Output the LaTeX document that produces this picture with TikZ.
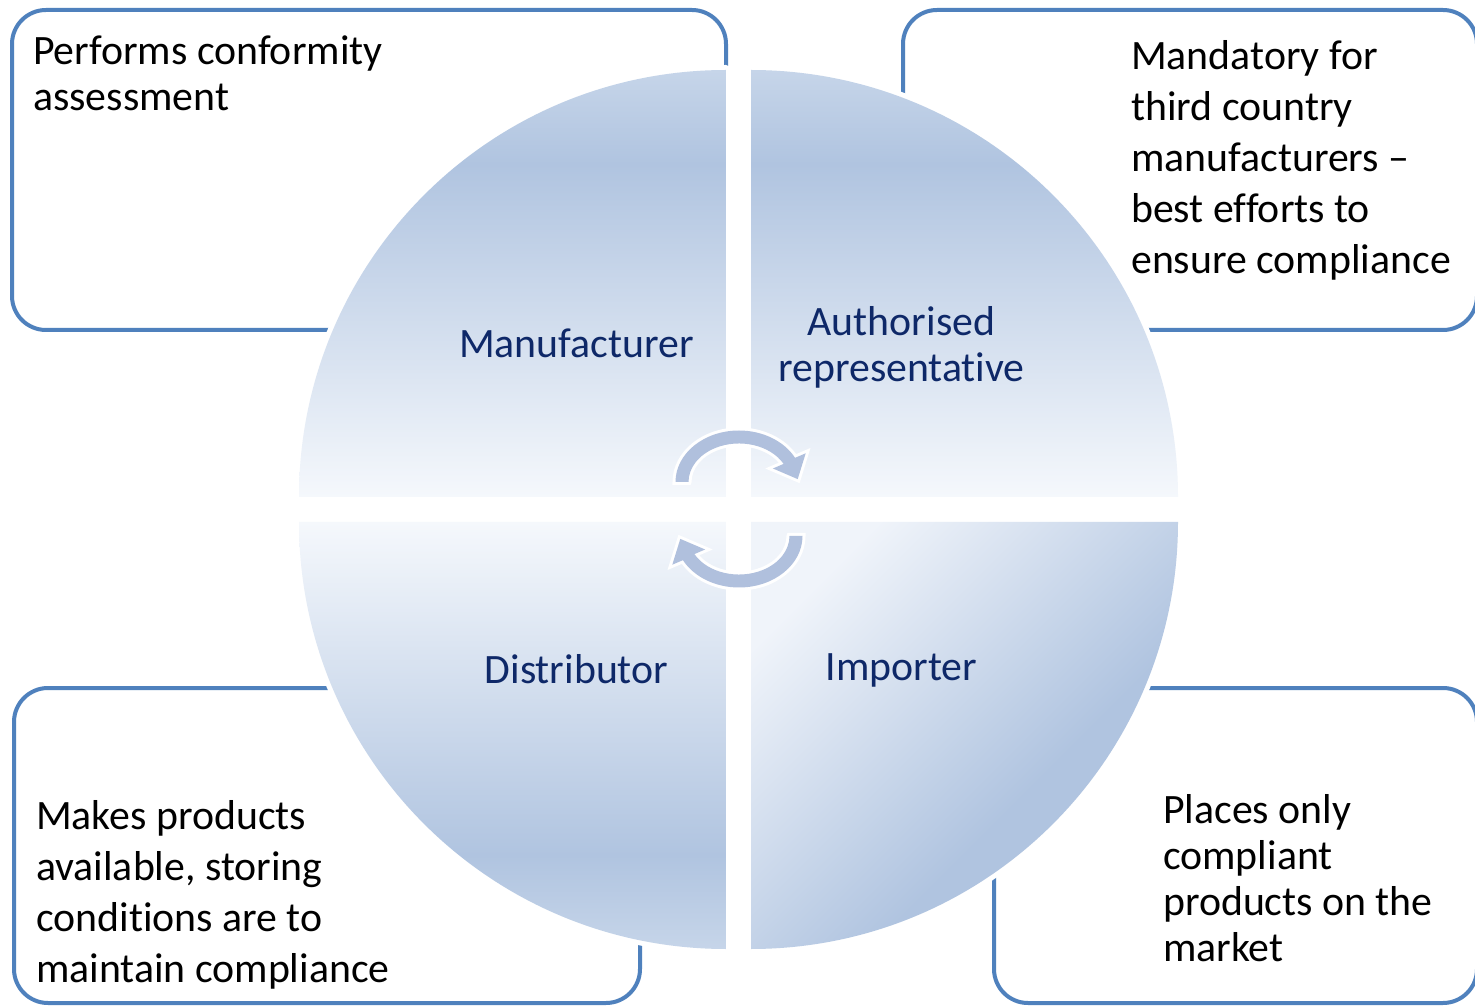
\documentclass[tikz,border=0pt]{standalone}
\usepackage{fontspec}
\setmainfont{Carlito}[Ligatures=NoCommon]
\definecolor{boxblue}{RGB}{79,129,189}
\definecolor{qdark}{RGB}{176,196,224}
\definecolor{qedge}{RGB}{198,213,233}
\definecolor{qlight}{RGB}{245,248,252}
\definecolor{qdiaglight}{RGB}{240,244,250}
\definecolor{arrowblue}{RGB}{176,192,221}
\definecolor{labelnavy}{RGB}{14,40,104}
\pgfdeclareverticalshading{qtop}{100bp}{color(0bp)=(qlight); color(25bp)=(qlight); color(64bp)=(qdark); color(75bp)=(qedge); color(100bp)=(qedge)}
\pgfdeclareverticalshading{qbot}{100bp}{color(0bp)=(qedge); color(25bp)=(qedge); color(36bp)=(qdark); color(75bp)=(qlight); color(100bp)=(qlight)}
\pgfdeclareverticalshading{qdiag}{100bp}{color(0bp)=(qdark); color(40bp)=(qdark); color(75bp)=(qdiaglight); color(100bp)=(qdiaglight)}
\newcommand\ltext[1]{\begin{tabular}[t]{@{}l@{}}#1\end{tabular}}
\newcommand\ctext[1]{\begin{tabular}[t]{@{}c@{}}#1\end{tabular}}
\tikzset{
  roundbox/.style={draw=boxblue, line width=4, rounded corners=34, fill=white},
  quad/.style={preaction={draw=white, line width=10, line join=round}},
  cyclearrow/.style={fill=arrowblue, preaction={draw=white, line width=6, line join=miter}},
  tighttext/.style={anchor=base west, inner sep=0, font=\fontsize{41.8}{46}\selectfont},
  widetext/.style={anchor=base west, inner sep=0, font=\fontsize{41.8}{51}\selectfont},
  rolelabel/.style={anchor=base, inner sep=0, text=labelnavy, font=\fontsize{41.8}{46}\selectfont}
}
\begin{document}
\begin{tikzpicture}[x=1pt,y=1pt]
\useasboundingbox (0,0) rectangle (1475,1005);
\fill[white] (0,0) rectangle (1475,1005);
% boxes
\draw[roundbox] (12,675) rectangle (726,995);
\draw[roundbox] (903,675) rectangle (1477,995);
\draw[roundbox] (14,2) rectangle (640,317);
\draw[roundbox] (994,2) rectangle (1477,317);
% box texts
\node[tighttext] (tconf) at (33,940) {\ltext{Performs conformity\\assessment}};
\node[widetext] (tmand) at (1131,935) {\ltext{Mandatory for\\third country\\manufacturers –\\best efforts to\\ensure compliance}};
\node[widetext] (tmake) at (36,176) {\ltext{Makes products\\available, storing\\conditions are to\\maintain compliance}};
\node[tighttext] (tplace) at (1163,182) {\ltext{Places only\\compliant\\products on the\\market}};
% quadrants
\shade[quad, shading=qtop] (726,508) -- (299,508) arc[start angle=180, end angle=90, radius=427] -- cycle;
\shade[quad, shading=qtop] (751,508) -- (751,935) arc[start angle=90, end angle=0, radius=427] -- cycle;
\shade[quad, shading=qbot] (726,483) -- (726,56) arc[start angle=270, end angle=180, radius=427] -- cycle;
\shade[quad, shading=qdiag, shading angle=45] (751,483) -- (1178,483) arc[start angle=0, end angle=-90, radius=427] -- cycle;
% cycle arrows
\path[cyclearrow] (688.5,523) -- (675.5,523) arc[start angle=180, end angle=28, x radius=63.5, y radius=51.5] -- (805.7,551.7) -- (797.7,525.9) -- (772.9,536.5) -- (783.6,541.1) arc[start angle=28, end angle=180, x radius=50.5, y radius=38.5] -- cycle;
\begin{scope}[rotate around={180:(739,496)}]
\path[cyclearrow] (688.5,523) -- (675.5,523) arc[start angle=180, end angle=28, x radius=63.5, y radius=51.5] -- (805.7,551.7) -- (797.7,525.9) -- (772.9,536.5) -- (783.6,541.1) arc[start angle=28, end angle=180, x radius=50.5, y radius=38.5] -- cycle;
\end{scope}
% role labels
\node[rolelabel] (manu) at (576.5,647) {Manufacturer};
\node[rolelabel] (auth) at (901.5,669) {\ctext{Authorised\\representative}};
\node[rolelabel] (dist) at (576.5,322) {Distributor};
\node[rolelabel] (impo) at (901.5,324) {Importer};
\end{tikzpicture}
\end{document}
